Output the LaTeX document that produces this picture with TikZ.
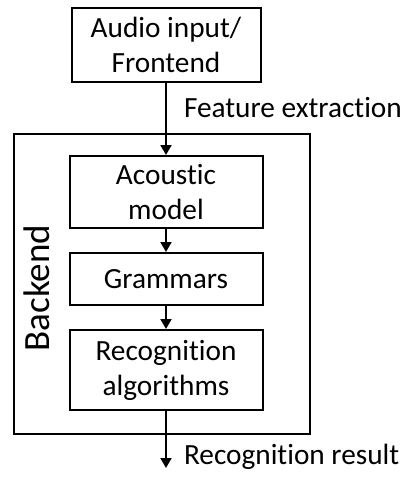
\documentclass[tikz,border=0pt]{standalone}
\usepackage{fontspec}
\setmainfont{Carlito}[Ligatures={NoCommon}]
\usetikzlibrary{arrows.meta, positioning}
\tikzset{
  every picture/.style={line width=2pt},
  block/.style={draw, align=center, minimum width=193pt, inner sep=0pt,
    font=\fontsize{29.3}{35}\selectfont},
  arrow/.style={-{Triangle[length=10pt, width=11pt]}, line width=2pt},
  note/.style={anchor=west, inner sep=0pt, font=\fontsize{29.3}{35}\selectfont},
}

\begin{document}
\begin{tikzpicture}[x=1pt, y=-1pt]
  \useasboundingbox (0,0) rectangle (419,491);
  % outer backend frame
  \node[draw, minimum width=296pt, minimum height=300pt, inner sep=0pt] (backend) at (162,284) {};
  \node[rotate=90, font=\fontsize{37}{40}\selectfont] (backendlabel) at (37,288) {Backend};
  % blocks
  \node[block, minimum width=189pt, minimum height=74pt] (audio) at (166,45) {Audio input/\\Frontend};
  \node[block, minimum height=72pt] (acoustic) at (166,192) {Acoustic\\model};
  \node[block, minimum height=52pt] (grammars) at (166,279) {Grammars};
  \node[block, minimum height=80pt] (recog) at (166,370) {Recognition\\algorithms};
  \coordinate (result) at (166,468);
  % connectors
  \draw[arrow] (audio) -- (acoustic);
  \draw[arrow] (acoustic) -- (grammars);
  \draw[arrow] (grammars) -- (recog);
  \draw[arrow] (recog) -- (result);
  \node[note] (featlabel) at (183,108) {Feature extraction};
  \node[note] (resultlabel) at (183,457) {Recognition result};
\end{tikzpicture}
\end{document}
